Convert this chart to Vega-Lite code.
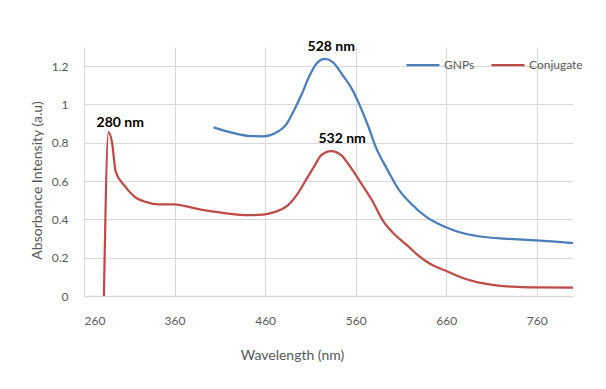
{
  "$schema": "https://vega.github.io/schema/vega-lite/v6.json",
  "width": 489,
  "height": 249,
  "autosize": {"type": "none"},
  "padding": {"left": 84, "top": 47, "right": 33, "bottom": 93},
  "background": "white",
  "config": {
    "view": {"stroke": null},
    "font": "Lato",
    "axis": {"gridColor": "#d9d9d9", "gridWidth": 1, "labelColor": "#595959", "labelFont": "Lato", "labelFontSize": 12, "titleColor": "#595959", "titleFont": "Lato", "titleFontWeight": "normal", "ticks": false}
  },
  "datasets": {
    "spectra": [
      {"wavelength": 403, "absorbance": 0.88, "series": "GNPs"},
      {"wavelength": 420, "absorbance": 0.857, "series": "GNPs"},
      {"wavelength": 441, "absorbance": 0.836, "series": "GNPs"},
      {"wavelength": 458, "absorbance": 0.834, "series": "GNPs"},
      {"wavelength": 471, "absorbance": 0.85, "series": "GNPs"},
      {"wavelength": 484, "absorbance": 0.9, "series": "GNPs"},
      {"wavelength": 492, "absorbance": 0.97, "series": "GNPs"},
      {"wavelength": 501, "absorbance": 1.06, "series": "GNPs"},
      {"wavelength": 509, "absorbance": 1.15, "series": "GNPs"},
      {"wavelength": 518, "absorbance": 1.22, "series": "GNPs"},
      {"wavelength": 526, "absorbance": 1.238, "series": "GNPs"},
      {"wavelength": 535, "absorbance": 1.22, "series": "GNPs"},
      {"wavelength": 546, "absorbance": 1.15, "series": "GNPs"},
      {"wavelength": 556, "absorbance": 1.08, "series": "GNPs"},
      {"wavelength": 565, "absorbance": 0.99, "series": "GNPs"},
      {"wavelength": 574, "absorbance": 0.885, "series": "GNPs"},
      {"wavelength": 582, "absorbance": 0.78, "series": "GNPs"},
      {"wavelength": 595, "absorbance": 0.66, "series": "GNPs"},
      {"wavelength": 608, "absorbance": 0.553, "series": "GNPs"},
      {"wavelength": 621, "absorbance": 0.483, "series": "GNPs"},
      {"wavelength": 638, "absorbance": 0.413, "series": "GNPs"},
      {"wavelength": 659, "absorbance": 0.36, "series": "GNPs"},
      {"wavelength": 681, "absorbance": 0.325, "series": "GNPs"},
      {"wavelength": 702, "absorbance": 0.308, "series": "GNPs"},
      {"wavelength": 724, "absorbance": 0.299, "series": "GNPs"},
      {"wavelength": 760, "absorbance": 0.29, "series": "GNPs"},
      {"wavelength": 800, "absorbance": 0.276, "series": "GNPs"},
      {"wavelength": 282, "absorbance": 0.0, "series": "Conjugate"},
      {"wavelength": 287, "absorbance": 0.855, "series": "Conjugate"},
      {"wavelength": 291, "absorbance": 0.8, "series": "Conjugate"},
      {"wavelength": 295, "absorbance": 0.649, "series": "Conjugate"},
      {"wavelength": 304, "absorbance": 0.58, "series": "Conjugate"},
      {"wavelength": 316, "absorbance": 0.518, "series": "Conjugate"},
      {"wavelength": 329, "absorbance": 0.49, "series": "Conjugate"},
      {"wavelength": 342, "absorbance": 0.478, "series": "Conjugate"},
      {"wavelength": 359, "absorbance": 0.479, "series": "Conjugate"},
      {"wavelength": 372, "absorbance": 0.469, "series": "Conjugate"},
      {"wavelength": 389, "absorbance": 0.451, "series": "Conjugate"},
      {"wavelength": 406, "absorbance": 0.439, "series": "Conjugate"},
      {"wavelength": 424, "absorbance": 0.427, "series": "Conjugate"},
      {"wavelength": 441, "absorbance": 0.422, "series": "Conjugate"},
      {"wavelength": 458, "absorbance": 0.425, "series": "Conjugate"},
      {"wavelength": 471, "absorbance": 0.439, "series": "Conjugate"},
      {"wavelength": 484, "absorbance": 0.469, "series": "Conjugate"},
      {"wavelength": 496, "absorbance": 0.535, "series": "Conjugate"},
      {"wavelength": 505, "absorbance": 0.605, "series": "Conjugate"},
      {"wavelength": 514, "absorbance": 0.675, "series": "Conjugate"},
      {"wavelength": 522, "absorbance": 0.735, "series": "Conjugate"},
      {"wavelength": 533, "absorbance": 0.757, "series": "Conjugate"},
      {"wavelength": 544, "absorbance": 0.735, "series": "Conjugate"},
      {"wavelength": 554, "absorbance": 0.675, "series": "Conjugate"},
      {"wavelength": 565, "absorbance": 0.596, "series": "Conjugate"},
      {"wavelength": 578, "absorbance": 0.5, "series": "Conjugate"},
      {"wavelength": 591, "absorbance": 0.387, "series": "Conjugate"},
      {"wavelength": 604, "absorbance": 0.317, "series": "Conjugate"},
      {"wavelength": 617, "absorbance": 0.264, "series": "Conjugate"},
      {"wavelength": 629, "absorbance": 0.212, "series": "Conjugate"},
      {"wavelength": 642, "absorbance": 0.168, "series": "Conjugate"},
      {"wavelength": 659, "absorbance": 0.133, "series": "Conjugate"},
      {"wavelength": 676, "absorbance": 0.098, "series": "Conjugate"},
      {"wavelength": 694, "absorbance": 0.072, "series": "Conjugate"},
      {"wavelength": 711, "absorbance": 0.058, "series": "Conjugate"},
      {"wavelength": 732, "absorbance": 0.049, "series": "Conjugate"},
      {"wavelength": 760, "absorbance": 0.045, "series": "Conjugate"},
      {"wavelength": 800, "absorbance": 0.044, "series": "Conjugate"}
    ],
    "peaks": [
      {"label": "528 nm", "wavelength": 533, "absorbance": 1.3},
      {"label": "532 nm", "wavelength": 545, "absorbance": 0.82},
      {"label": "280 nm", "wavelength": 300, "absorbance": 0.904}
    ]
  },
  "layer": [
    {
      "data": {"name": "spectra"},
      "mark": {"type": "line", "strokeWidth": 2.25, "clip": true, "interpolate": "monotone"},
      "encoding": {
        "x": {
          "field": "wavelength", "type": "quantitative",
          "scale": {"domain": [260, 800], "nice": false, "zero": false},
          "axis": {
            "values": [260, 360, 460, 560, 660, 760],
            "title": "Wavelength (nm)",
            "titleFontSize": 14,
            "titleX": 208, "titleY": 59, "titleBaseline": "middle", "titleAlign": "center", "titleAnchor": null,
            "labelPadding": 19,
            "domainColor": "#d9d9d9", "domainWidth": 1.5
          }
        },
        "y": {
          "field": "absorbance", "type": "quantitative",
          "scale": {"domain": [0, 1.3], "nice": false},
          "axis": {
            "values": [0, 0.2, 0.4, 0.6, 0.8, 1, 1.2],
            "format": "~g",
            "title": "Absorbance Intensity  (a.u)",
            "titleFontSize": 14,
            "titleX": -47, "titleY": 133, "titleAngle": -90, "titleBaseline": "middle", "titleAlign": "center", "titleAnchor": null,
            "labelPadding": 16,
            "domain": false
          }
        },
        "color": {
          "field": "series", "type": "nominal",
          "scale": {"domain": ["GNPs", "Conjugate"], "range": ["#4A7EBB", "#BE4B48"]},
          "legend": {
            "title": null,
            "orient": "none",
            "legendX": 321,
            "legendY": 0,
            "direction": "horizontal",
            "symbolType": "stroke",
            "symbolSize": 1089,
            "symbolStrokeWidth": 2.25,
            "labelFont": "Lato",
            "labelFontSize": 12,
            "labelColor": "#595959",
            "labelOffset": 3,
            "columnPadding": 12
          }
        }
      }
    },
    {
      "data": {"name": "peaks"},
      "mark": {"type": "text", "font": "Lato", "fontWeight": "bold", "fontSize": 14, "color": "black", "baseline": "middle", "align": "center"},
      "encoding": {
        "x": {"field": "wavelength", "type": "quantitative"},
        "y": {"field": "absorbance", "type": "quantitative"},
        "text": {"field": "label"}
      }
    }
  ]
}
